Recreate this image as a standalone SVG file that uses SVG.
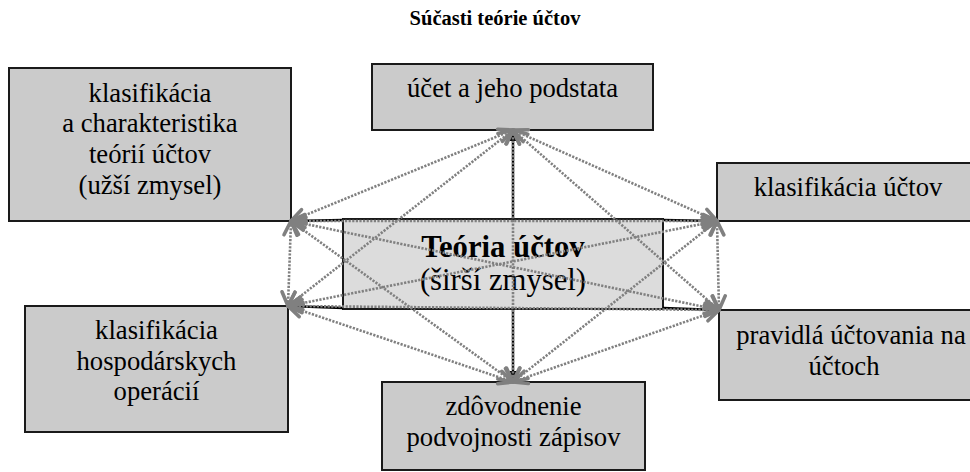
<svg xmlns="http://www.w3.org/2000/svg" width="970" height="472" viewBox="0 0 970 472">
<defs>
<style>
.box{fill:#cbcbcb;stroke:#1a1a1a;stroke-width:2}
.center{fill:#dcdcdc;stroke:#1a1a1a;stroke-width:2}
.t{font-family:"Liberation Serif","Times New Roman",serif;font-size:26.67px;fill:#000;text-anchor:middle}
.ct{font-family:"Liberation Serif","Times New Roman",serif;font-size:30.7px;fill:#000;text-anchor:middle}
.title{font-family:"Liberation Serif","Times New Roman",serif;font-size:20.5px;font-weight:bold;fill:#000;text-anchor:middle}
.dot{fill:none;stroke:#808080;stroke-width:2.6;stroke-dasharray:2.2 1.4;marker-start:url(#ga);marker-end:url(#ga)}
.solid{fill:none;stroke:#000;stroke-width:2.4;marker-end:url(#ba)}
</style>
<marker id="ga" markerUnits="userSpaceOnUse" viewBox="0 0 20 18" refX="17" refY="9" markerWidth="20" markerHeight="18" orient="auto-start-reverse">
<path d="M3,2.5 L17,9 L3,15.5" fill="none" stroke="#808080" stroke-width="3.6" stroke-linecap="round" stroke-linejoin="round"/>
</marker>
<marker id="ba" markerUnits="userSpaceOnUse" viewBox="0 0 10 8" refX="10" refY="4" markerWidth="10" markerHeight="8" orient="auto">
<path d="M0,0.5 L10,4 L0,7.5 Z" fill="#000"/>
</marker>
</defs>
<rect width="970" height="472" fill="#fff"/>
<text class="title" x="495" y="25">Súčasti teórie účtov</text>
<g id="node-klasifikacia-charakteristika">
<rect class="box" x="9" y="68" width="282" height="153"/>
<text class="t" x="150" y="101.5">klasifikácia</text>
<text class="t" x="150" y="132.2">a charakteristika</text>
<text class="t" x="150" y="162.9">teórií účtov</text>
<text class="t" x="150" y="193.6">(užší zmysel)</text>
</g>
<g id="node-ucet">
<rect class="box" x="372" y="64" width="281" height="66"/>
<text class="t" x="512.5" y="97">účet a jeho podstata</text>
</g>
<g id="node-klasifikacia-uctov">
<rect class="box" x="717" y="163" width="263" height="58"/>
<text class="t" x="848" y="196">klasifikácia účtov</text>
</g>
<g id="node-hospodarske-operacie">
<rect class="box" x="25" y="306" width="263" height="126"/>
<text class="t" x="156.5" y="339">klasifikácia</text>
<text class="t" x="156.5" y="369.7">hospodárskych</text>
<text class="t" x="156.5" y="400.4">operácií</text>
</g>
<g id="node-pravidla">
<rect class="box" x="719" y="310" width="261" height="90"/>
<text class="t" x="851" y="344">pravidlá účtovania na</text>
<text class="t" x="844" y="374.7">účtoch</text>
</g>
<g id="node-zdovodnenie">
<rect class="box" x="382" y="382" width="263" height="88"/>
<text class="t" x="513.5" y="415">zdôvodnenie</text>
<text class="t" x="513.5" y="445.7">podvojnosti zápisov</text>
</g>
<g id="node-teoria">
<rect class="center" x="343" y="219" width="320" height="90"/>
<text class="ct" x="503" y="256.5" font-weight="bold">Teória účtov</text>
<text class="ct" x="503" y="289.5">(širší zmysel)</text>
</g>
<g id="connectors">
<line class="solid" x1="513" y1="219" x2="513" y2="131"/>
<line class="solid" x1="513" y1="309" x2="513" y2="381"/>
<line class="solid" x1="343" y1="220" x2="292" y2="221"/>
<line class="solid" x1="343" y1="308" x2="289" y2="306"/>
<line class="solid" x1="663" y1="220" x2="716" y2="221"/>
<line class="solid" x1="663" y1="308" x2="718" y2="310"/>
<line class="dot" x1="513" y1="130" x2="291" y2="221"/>
<line class="dot" x1="513" y1="130" x2="717" y2="221"/>
<line class="dot" x1="513" y1="130" x2="288" y2="306"/>
<line class="dot" x1="513" y1="130" x2="719" y2="310"/>
<line class="dot" x1="513" y1="130" x2="513" y2="382"/>
<line class="dot" x1="291" y1="221" x2="717" y2="221"/>
<line class="dot" x1="291" y1="221" x2="288" y2="306"/>
<line class="dot" x1="291" y1="221" x2="719" y2="310"/>
<line class="dot" x1="291" y1="221" x2="513" y2="382"/>
<line class="dot" x1="717" y1="221" x2="288" y2="306"/>
<line class="dot" x1="717" y1="221" x2="719" y2="310"/>
<line class="dot" x1="717" y1="221" x2="513" y2="382"/>
<line class="dot" x1="288" y1="306" x2="719" y2="310"/>
<line class="dot" x1="288" y1="306" x2="513" y2="382"/>
<line class="dot" x1="719" y1="310" x2="513" y2="382"/>
</g>
</svg>
